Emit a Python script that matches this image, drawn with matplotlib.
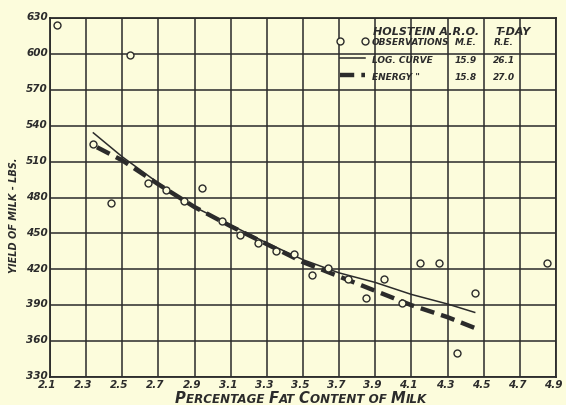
"""
Holstein A.R.O. 7-day records: milk yield against fat percentage
"""
import matplotlib.pyplot as plt
from matplotlib.transforms import ScaledTranslation

# observations
fat_pct = [2.14, 2.34, 2.44, 2.54, 2.64, 2.74, 2.84, 2.94, 3.05, 3.15, 3.25, 3.35,
           3.45, 3.55, 3.64, 3.75, 3.85, 3.95, 4.05, 4.15, 4.25, 4.35, 4.45, 4.85]
milk_lbs = [624, 525, 475, 599, 492, 486, 477, 488, 460, 449, 442, 435,
            433, 415, 421, 412, 396, 412, 392, 425, 425, 350, 400, 425]

# fitted curves, read at the grid lines
log_x = [2.34, 2.5, 2.7, 2.9, 3.1, 3.3, 3.5, 3.7, 3.9, 4.1, 4.3, 4.45]
log_y = [534, 514, 492, 472, 457, 442, 428, 417, 409, 399, 391, 384]
energy_x = [2.36, 2.5, 2.7, 2.9, 3.1, 3.3, 3.5, 3.7, 3.9, 4.1, 4.3, 4.45]
energy_y = [522, 511, 491, 472, 456, 441, 426, 414, 402, 390, 380, 371]

# table in the top right corner
legend_labels = ['OBSERVATIONS', 'LOG. CURVE', 'ENERGY "']
me_values = ['15.9', '15.8']
re_values = ['26.1', '27.0']

x_ticks = [2.1, 2.3, 2.5, 2.7, 2.9, 3.1, 3.3, 3.5, 3.7, 3.9, 4.1, 4.3, 4.5, 4.7, 4.9]
x_labels = ['2.1', '2.3', '2.5', '2.7', '2.9', '3.1', '3.3', '3.5', '3.7', '3.9',
            '4.1', '4.3', '4.5', '4.7', '4.9']
y_ticks = [330, 360, 390, 420, 450, 480, 510, 540, 570, 600, 630]

ink = '#2b2b2b'
paper = '#fcfcdc'

plt.rcParams['font.family'] = ['Liberation Sans Narrow', 'DejaVu Sans']
plt.rcParams['font.weight'] = 'bold'
plt.rcParams['font.style'] = 'italic'

fig = plt.figure(figsize=(5.66, 4.06), dpi=100, facecolor=paper)
ax = fig.add_axes([50 / 566, 1 - 378 / 406, 506 / 566, 359 / 406])
ax.set_facecolor(paper)
ax.set_xlim(2.1, 4.9)
ax.set_ylim(330, 630)
ax.set_xticks(x_ticks)
ax.set_xticklabels(x_labels)
ax.set_yticks(y_ticks)
ax.set_yticklabels([str(v) for v in y_ticks])
ax.tick_params(length=0, colors=ink, labelsize=7.5)
ax.tick_params(axis='x', pad=1.5)
ax.tick_params(axis='y', pad=1.5)
ax.grid(True, color=ink, lw=1.1)
ax.set_axisbelow(True)
for s in ax.spines.values():
    s.set_color(ink)
    s.set_linewidth(1.3)

# y labels sit a little above their grid lines, x labels a little left
up = ScaledTranslation(0, 2 / 72, fig.dpi_scale_trans)
for lab in ax.get_yticklabels():
    lab.set_transform(lab.get_transform() + up)
left = ScaledTranslation(-2 / 72, 0, fig.dpi_scale_trans)
for lab in ax.get_xticklabels():
    lab.set_transform(lab.get_transform() + left)

# curves and points
log_line, = ax.plot(log_x, log_y, color=ink, lw=1.1, zorder=3)
energy_line, = ax.plot(energy_x, energy_y, color=ink, lw=3.2,
                       ls=(0, (3.2, 1.6)), zorder=3)
obs, = ax.plot(fat_pct, milk_lbs, ls='none', marker='o', ms=5, mfc=paper,
               mec=ink, mew=1, zorder=4, clip_on=False)

# key table
small = dict(fontsize=6.5, color=ink)
leg = ax.legend([obs, log_line, energy_line], legend_labels, loc='upper left',
                bbox_to_anchor=(0.567, 0.946), frameon=False, borderpad=0,
                borderaxespad=0, handlelength=3.4, handletextpad=0.5,
                labelspacing=0.9, numpoints=2, prop={'size': 6.5})
leg_texts = leg.get_texts()
for t in leg_texts:
    t.set_color(ink)

ax.text(3.89, 619, 'HOLSTEIN A.R.O.', fontsize=8, color=ink, va='center')
ax.text(4.66, 619, 'T-DAY', fontsize=8, color=ink, va='center', ha='center')
ax.annotate('M.E.', xy=(4.40, 0.5), xycoords=('data', leg_texts[0]),
            ha='center', va='center', zorder=6, **small)
ax.annotate('R.E.', xy=(4.61, 0.5), xycoords=('data', leg_texts[0]),
            ha='center', va='center', zorder=6, **small)
for i in range(2):
    ax.annotate(me_values[i], xy=(4.40, 0.5), xycoords=('data', leg_texts[i + 1]),
                ha='center', va='center', zorder=6, **small)
    ax.annotate(re_values[i], xy=(4.61, 0.5), xycoords=('data', leg_texts[i + 1]),
                ha='center', va='center', zorder=6, **small)

# axis titles, the x one in small caps, both in the wider face
wide = ['DejaVu Sans']
fig.text(14 / 566, 1 - 215 / 406, 'YIELD OF MILK - LBS.', rotation=90,
         ha='center', va='center', fontsize=7, color=ink, family=wide)

pieces = [('P', 10.6), ('ERCENTAGE ', 8.6), ('F', 10.6), ('AT ', 8.6), ('C', 10.6),
          ('ONTENT OF ', 8.6), ('M', 10.6), ('ILK', 8.6)]
prev = fig.text(175 / 566, 0, pieces[0][0], fontsize=pieces[0][1],
                color=ink, va='bottom', family=wide)
for txt, size in pieces[1:]:
    prev = ax.annotate(txt, xy=(1, 0), xycoords=prev, ha='left', va='bottom',
                       fontsize=size, color=ink, family=wide,
                       annotation_clip=False)

fig.savefig('out.png', dpi=100, facecolor=paper)
